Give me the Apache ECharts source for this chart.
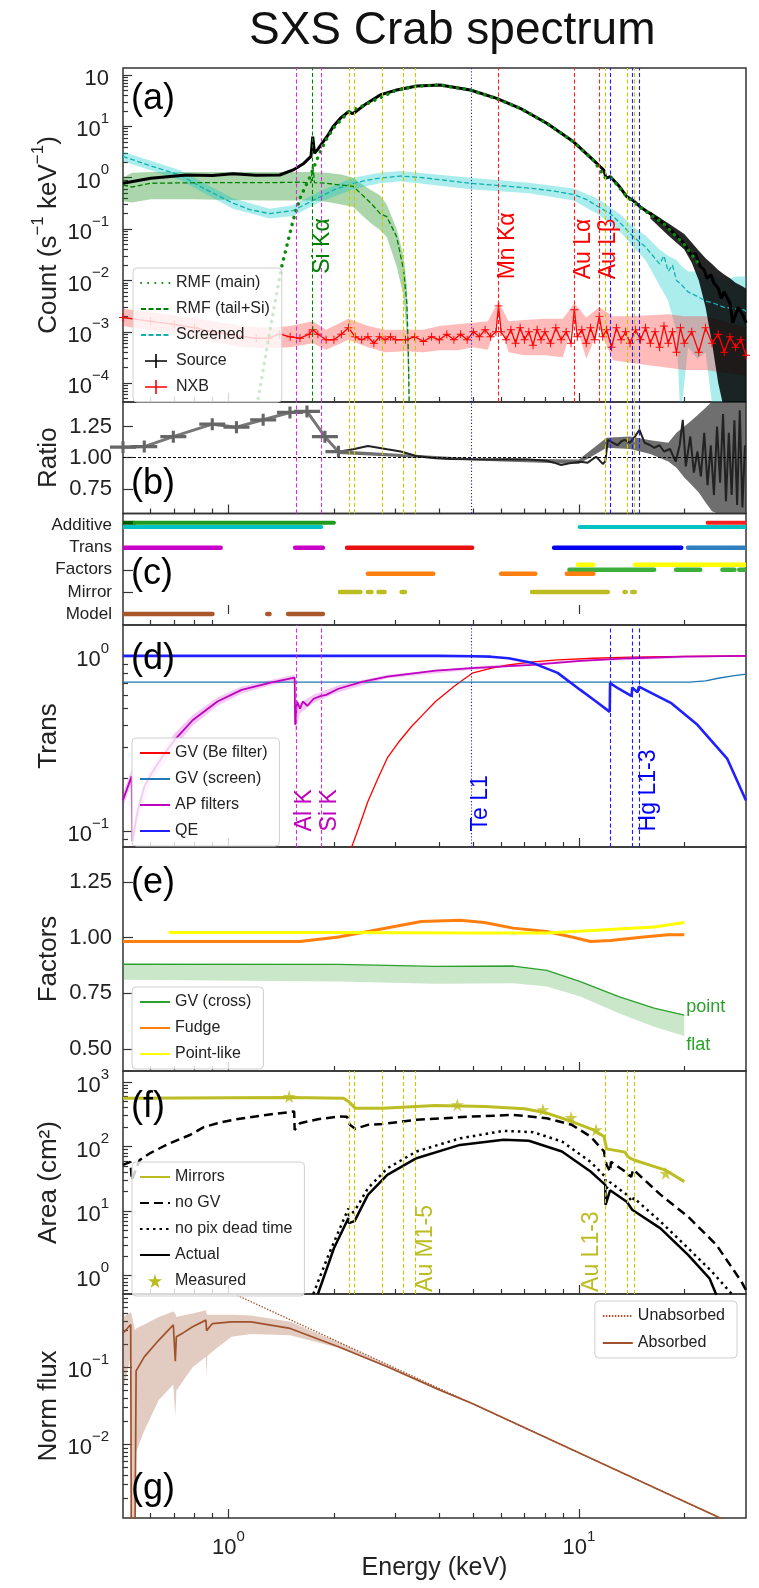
<!DOCTYPE html>
<html><head><meta charset="utf-8">
<script src="https://cdn.jsdelivr.net/npm/echarts@6/dist/echarts.min.js"></script>
<style>html,body{margin:0;padding:0;background:#fff}#c{width:759px;height:1588px}</style>
</head><body><div id="c"></div>
<script>
// ================= DATA =================
const X_MIN = 0.5, X_MAX = 30;
const X_MAJOR = [1, 10];
const X_MINOR = [0.6,0.7,0.8,0.9,2,3,4,5,6,7,8,9,20];

// panel ranges / ticks
const A_RANGE = [4.3e-5, 137];
const A_MAJOR = [1e-4,1e-3,1e-2,1e-1,1,10,100];
const B_RANGE = [0.552, 1.447];
const B_TICKS = [0.75, 1.0, 1.25];
const C_RANGE = [-0.5, 4.55];
const C_ROWS = ['Model','Mirror','Factors','Trans','Additive'];
const D_RANGE = [0.0815, 1.5];
const D_MAJOR = [0.1, 1];
const E_RANGE = [0.401, 1.406];
const E_TICKS = [0.5, 0.75, 1.0, 1.25];
const F_RANGE = [0.52, 1480];
const F_MAJOR = [1, 10, 100, 1000];
const G_RANGE = [1.11e-3, 0.895];
const G_MAJOR = [0.01, 0.1];

// edge energies (keV)
const AP_EDGES = [1.56, 1.84];
const SI_KA = [1.74];
const AU_M = [2.206, 2.291, 2.743, 3.148, 3.425];
const TE_L1 = [4.94];
const RED_LINES = [5.9, 9.71, 11.44];
const AU_L = [11.92, 13.73, 14.35];
const HG_L = [12.28, 14.21, 14.84];

// (a) count spectra
const srcE = [0.5,0.6,0.76,0.9,1.03,1.2,1.4,1.53,1.64,1.72,1.74,1.76,1.8,1.91,1.99,2.1,2.2,2.26,2.3,2.48,2.71,3.02,3.45,4.02,4.9,5.83,6.8,8.1,9.66,11.0,11.8,11.95,12.3,13.0,13.7,14.3,14.98,16.0,17.4,18.5,19.9,20.5,21,21.5,22.2,22.8,23.2,23.8,24.3,25,25.5,26,27,27.5,28.5,29.5,30];
const srcY = [0.78,0.98,1.13,1.1,1.19,1.12,1.13,1.42,1.9,2.6,6.3,3.0,3.6,6.3,9.9,15,19.3,17.8,19,28,41,51,61,64,51,35,22.5,11.5,5.0,2.2,1.4,0.98,1.05,0.7,0.43,0.36,0.27,0.2,0.13,0.09,0.054,0.04,0.03,0.034,0.019,0.016,0.011,0.013,0.0089,0.007,0.0045,0.006,0.0036,0.0015,0.003,0.002,0.0015];
const srcErrE = [16,18,20,21,22,23,24,25,26,27,28,29,30];
const srcErrHi = [0.22,0.13,0.08,0.055,0.038,0.027,0.021,0.016,0.013,0.011,0.009,0.008,0.007];
const srcErrLo = [0.16,0.075,0.04,0.022,0.01,0.003,0.0006,0.0001,0.00003,0.00001,0.00001,0.00001,0.00001];
const rmfE = [1.216,1.285,1.35,1.419,1.53,1.6,1.71,1.8,1.9,2.0,2.2,2.5,3.0,3.45,4.0,4.9,5.8,6.8,8.1,9.66,11.0,11.9,12.3,13.7,15,17.4,20,22.2];
const rmfY = [5e-5,4.5e-4,3e-3,0.0186,0.15,0.4,1.05,2.5,5.5,9.5,19,28,50,61,64,51,35,22.5,11.5,5.0,2.2,1.0,1.05,0.43,0.26,0.13,0.05,0.019];
const tailE = [0.5,0.53,0.6,0.8,1.0,1.3,1.6,1.72,1.74,1.76,1.9,2.1,2.27,2.38,2.55,2.71,2.83,3.02,3.16,3.23,3.26,3.28];
const tailY = [0.72,0.66,0.78,0.8,0.8,0.8,0.82,0.8,1.9,0.8,0.78,0.72,0.68,0.5,0.32,0.2,0.175,0.071,0.016,0.0036,4.5e-4,4e-5];
const tailBandE = [0.5,0.53,0.6,0.8,1.0,1.3,1.6,1.74,1.9,2.1,2.27,2.38,2.55,2.71,2.83,3.02,3.16,3.23,3.28];
const tailBandHi = [1.0,1.25,1.3,1.3,1.3,1.3,1.3,1.3,1.25,1.15,1.0,0.78,0.58,0.45,0.3,0.1,0.03,0.008,0.0002];
const tailBandLo = [0.35,0.33,0.38,0.38,0.37,0.36,0.36,0.36,0.34,0.3,0.27,0.2,0.13,0.095,0.07,0.019,0.005,0.0008,0.00002];
const scrE = [0.5,0.6,0.727,0.85,1.03,1.15,1.31,1.53,1.83,2.0,2.27,2.5,2.7,3.1,3.6,4.9,6,7.2,8.5,9.66,10.5,11.4,12.3,13.3,14.3,15.5,17,17.5,18,18.5,19,19.5,20.5,21.8,23,24.3,26,28,29.5,30];
const scrY = [2.6,1.7,1.13,0.62,0.32,0.24,0.2,0.23,0.43,0.58,0.78,0.9,0.98,1.08,1.0,0.78,0.7,0.63,0.55,0.47,0.38,0.27,0.2,0.12,0.071,0.045,0.021,0.03,0.015,0.02,0.01,0.0087,0.006,0.0049,0.004,0.0036,0.003,0.0028,0.0027,0.0025];
const scrBandE = [0.5,0.727,1.03,1.31,1.53,1.83,2.27,2.7,3.1,4.9,7.2,9.66,11.4,13.3,14.3,15.5,17,18,19,19.5,20.5,21.8,23,24.3,26,28,30];
const scrBandHi = [3.2,1.4,0.4,0.25,0.29,0.55,1.0,1.25,1.35,1.0,0.8,0.62,0.38,0.18,0.11,0.075,0.04,0.03,0.025,0.02,0.015,0.015,0.012,0.012,0.01,0.012,0.012];
const scrBandLo = [2.1,0.9,0.25,0.16,0.18,0.34,0.6,0.78,0.85,0.6,0.5,0.36,0.19,0.08,0.045,0.025,0.008,0.004,0.001,0.00002,0.0005,0.0003,0.0004,0.00002,0.00002,0.00002,0.00002];
const nxbE = [0.5,0.6,0.7,0.8,0.9,1.0,1.1,1.2,1.3,1.4,1.5,1.6,1.7,1.74,1.8,1.9,2.0,2.1,2.2,2.3,2.4,2.5,2.6,2.7,2.8,2.9,3.0,3.2,3.4,3.6,3.8,4.0,4.2,4.4,4.6,4.8,5.0,5.2,5.4,5.6,5.8,5.9,6.0,6.2,6.4,6.6,6.8,7.0,7.2,7.4,7.6,7.8,8.0,8.3,8.6,8.9,9.2,9.5,9.71,9.9,10.2,10.5,10.8,11.1,11.44,11.7,12.0,12.4,12.8,13.2,13.6,14.0,14.5,15,15.5,16,16.5,17,17.5,18,18.5,19,19.5,20,21,22,23,24,25,26,27,28,29,30];
const nxbY = [1.9e-3,1.6e-3,1.4e-3,1.2e-3,1.0e-3,9e-4,8e-4,7.5e-4,7.5e-4,9e-4,8e-4,7.5e-4,9e-4,1.1e-3,9e-4,7e-4,7e-4,9e-4,1.2e-3,8e-4,7e-4,8e-4,6e-4,8e-4,7e-4,8e-4,7e-4,7e-4,8e-4,6.5e-4,8e-4,7e-4,9e-4,7e-4,9e-4,7e-4,1e-3,8e-4,1.1e-3,8e-4,1e-3,3.2e-3,1e-3,7e-4,1.1e-3,6e-4,1.2e-3,7e-4,1e-3,5.5e-4,1.1e-3,7e-4,1e-3,6e-4,1.2e-3,7e-4,1e-3,6e-4,2.7e-3,8e-4,1.1e-3,6e-4,1.2e-3,7e-4,2e-3,8e-4,1.1e-3,5e-4,1.2e-3,7e-4,1e-3,6e-4,1.1e-3,7e-4,1.2e-3,6e-4,1e-3,5e-4,1.3e-3,6e-4,1e-3,4e-4,1.2e-3,6e-4,1e-3,4e-4,1.2e-3,6e-4,9e-4,4e-4,8e-4,5e-4,7e-4,3.5e-4];
const nxbBandE = [0.5,0.7,0.9,1.1,1.3,1.5,1.74,1.9,2.2,2.5,2.8,3.2,3.6,4.0,4.5,5.0,5.5,5.9,6.3,7,8,9,9.71,10.5,11.44,12.5,14,16,18,20,23,26,30];
const nxbBandHi = [2.8e-3,2.1e-3,1.6e-3,1.3e-3,1.2e-3,1.3e-3,1.6e-3,1.1e-3,1.8e-3,1.3e-3,1.1e-3,1.1e-3,1.1e-3,1.3e-3,1.4e-3,1.5e-3,1.6e-3,4e-3,1.6e-3,1.7e-3,1.8e-3,1.8e-3,3.6e-3,1.9e-3,3e-3,2e-3,2e-3,2.1e-3,2.2e-3,2e-3,2e-3,1.6e-3,1.2e-3];
const nxbBandLo = [1.3e-3,9e-4,6.5e-4,5e-4,4.8e-4,5e-4,6e-4,4.5e-4,7e-4,5e-4,4e-4,4.2e-4,4e-4,4.4e-4,4.4e-4,5e-4,4.5e-4,2e-3,4e-4,3.5e-4,3.5e-4,3.2e-4,1.8e-3,3e-4,1.2e-3,2.8e-4,2.5e-4,2.2e-4,2e-4,1.8e-4,1.8e-4,1.6e-4,1.4e-4];
const labelsA = [['Si Kα',1.74,0.0135,'#008000'],['Mn Kα',5.9,0.0105,'#ff0000'],['Au Lα',9.71,0.0105,'#ff0000'],['Au Lβ',11.44,0.0105,'#ff0000']];

// (b) ratio
const ratioLowE = [0.5,0.575,0.696,0.899,1.054,1.256,1.498,1.675,1.885,2.06];
const ratioLowY = [1.084,1.089,1.169,1.269,1.245,1.304,1.363,1.371,1.169,1.048];
const ratioE = [2.06,2.27,2.5,2.84,3.1,3.44,3.9,4.3,4.96,5.6,6.3,7.2,8.1,8.5,8.9,9.4,10.1,10.6,11.2,11.7,11.9,12.1,12.5,12.9,13.2,13.5,14.0,14.45,14.9,15.4,16.0,16.4,17.0,17.5,18.2,18.9,19.4,19.8,20.2,20.8,21.3,21.8,22.3,22.8,23.3,23.8,24.3,24.8,25.3,25.8,26.3,26.8,27.3,27.8,28.3,28.8,29.3,29.8];
const ratioY = [1.048,1.067,1.094,1.067,1.05,1.014,0.995,0.99,0.987,0.985,0.987,0.985,0.976,0.96,0.941,0.955,0.968,0.96,1.008,0.95,0.97,1.143,1.12,1.10,1.13,1.143,1.12,1.169,1.223,1.12,1.1,1.08,1.1,1.05,1.07,0.968,1.1,1.304,0.93,1.17,0.88,1.05,0.85,1.2,0.78,1.1,0.7,1.25,0.8,1.35,0.65,1.2,0.7,1.3,0.62,1.38,0.6,1.1];
const ratioBandE = [2.06,5,10,12,14,16,18,19,20,21,22,23,24,25,26,27,28,29,30];
const ratioBandHi = [1.06,0.995,0.985,1.16,1.17,1.14,1.12,1.2,1.25,1.3,1.35,1.4,1.45,1.45,1.45,1.45,1.45,1.45,1.45];
const ratioBandLo = [1.03,0.978,0.95,1.08,1.07,1.03,0.97,0.92,0.84,0.78,0.72,0.64,0.57,0.55,0.55,0.55,0.55,0.55,0.55];

// (c) component coverage segments [Emin, Emax]
const addDark = [[0.5,0.54]];
const addGreen = [[0.54,2.0]];
const addCyan = [[0.5,1.84],[10.05,30]];
const addRed = [[23.3,30]];
const transMag = [[0.5,0.95],[1.55,1.86]];
const transRed = [[2.18,4.96]];
const transBlue = [[8.5,19.6]];
const transSteel = [[20.5,30]];
const facYellow = [[9.95,11.0],[14.45,30]];
const facGreen = [[9.4,16.4],[18.95,22.2],[25.7,27.8],[28.7,30]];
const facOrange = [[2.5,3.84],[6.0,7.51],[9.24,11.0]];
const mirOlive = [[2.08,2.38],[2.5,2.56],[2.68,2.79],[3.12,3.19],[7.35,12.1],[13.5,13.6],[14.2,14.45]];
const modBrown = [[0.5,0.9],[1.29,1.31],[1.48,1.86]];

// (d) transmissions
const qeE = [0.5,1,2,3,4,4.96,5.6,6.3,7.4,8.7,10.1,11.2,12.25,12.28,13.0,14.15,14.2,14.7,14.8,14.84,16.5,18.3,21.8,26.5,30];
const qeY = [1.0,1.0,1.0,1.0,1.0,0.995,0.99,0.97,0.91,0.8,0.64,0.55,0.48,0.70,0.65,0.59,0.66,0.62,0.61,0.668,0.6,0.54,0.405,0.26,0.15];
const gvScreenE = [0.5,20.7,23,25,27.5,30];
const gvScreenY = [0.708,0.708,0.72,0.746,0.77,0.787];
const gvBeE = [2.2,2.25,2.35,2.5,2.66,2.84,3.05,3.33,3.6,3.9,4.4,4.96,5.6,6.3,7.4,8.7,11,14,20,30];
const gvBeY = [0.066,0.082,0.104,0.148,0.197,0.262,0.32,0.396,0.466,0.55,0.67,0.797,0.85,0.889,0.925,0.949,0.97,0.984,0.995,1.0];
const apE = [0.5,0.529,0.532,0.55,0.575,0.6,0.65,0.7,0.79,0.93,1.09,1.32,1.545,1.55,1.57,1.6,1.63,1.68,1.75,1.83,1.845,1.9,2.06,2.42,2.84,3.9,4.96,7.4,10.1,14,20,30];
const apY = [0.151,0.206,0.088,0.13,0.18,0.21,0.27,0.33,0.43,0.55,0.64,0.705,0.752,0.405,0.55,0.5,0.55,0.52,0.57,0.59,0.575,0.6,0.65,0.714,0.762,0.824,0.851,0.889,0.937,0.97,0.99,1.0];
const apBandE = [0.5,0.529,0.532,0.55,0.6,0.7,0.79,0.93,1.09,1.32,1.545,1.55,1.6,1.75,2.06,2.84,4.96,10,30];
const apBandHi = [0.165,0.225,0.1,0.145,0.23,0.36,0.46,0.58,0.67,0.73,0.78,0.45,0.54,0.6,0.68,0.78,0.87,0.95,1.0];
const apBandLo = [0.138,0.19,0.078,0.115,0.19,0.3,0.4,0.52,0.61,0.68,0.725,0.36,0.47,0.54,0.62,0.745,0.835,0.925,1.0];
const labelsDm = [['Al K',1.56,0.1],['Si K',1.84,0.1]];
const labelsDb = [['Te L1',4.94,0.1],['Hg L1-3',14.84,0.1]];

// (e) factors
const fudgeE = [0.5,1.6,2.06,2.66,3.55,4.58,5.37,6.5,8.1,9.55,10.8,12.3,15.3,18,20];
const fudgeY = [0.982,0.982,1.002,1.035,1.072,1.077,1.067,1.042,1.027,1.002,0.982,0.987,1.002,1.012,1.012];
const pointE = [0.675,2,5,8.1,11.9,16.4,20];
const pointY = [1.022,1.022,1.02,1.02,1.035,1.047,1.067];
const gvCrossE = [0.5,2.06,3.9,6.5,8.1,10.1,13,16.4,20];
const gvPoint = [0.88,0.879,0.87,0.872,0.852,0.802,0.735,0.683,0.652];
const gvFlat = [0.81,0.802,0.792,0.795,0.78,0.735,0.66,0.6,0.558];
const labelsE = [['point',20,0.69],['flat',20,0.517]];

// (f) effective area
const mirE = [0.5,1.5,2.13,2.2,2.3,2.75,3.9,5.4,7.0,8.1,9.55,11.0,11.8,11.92,12.0,13.55,13.73,14.0,14.35,14.5,17.6,20];
const mirY = [562,575,562,500,393,393,433,417,384,330,244,181,143,110,92,82,72,66,62,60,43.6,28.6];
const measE = [1.49,4.5,7.9,9.5,11.2,17.7];
const measY = [596,443,371,282,181,38.6];
const noGvE = [0.5,0.525,0.53,0.545,0.558,0.6,0.674,0.776,0.85,0.93,1.05,1.28,1.54,1.545,1.6,1.8,2.06,2.18,2.22,2.3,2.5,2.75,3.44,4.96,6.5,8.1,9.55,10.8,11.8,11.92,12.0,12.28,12.35,13.55,13.73,14.1,14.3,17.1,20.5,24.7,29.1,30];
const noGvY = [52,58,30,45,62,80,110,151,200,230,265,309,349,181,230,265,292,290,217,188,217,224,259,292,309,275,217,143,84,60,52,41,58,41,38,34,44,18,8.2,3.0,0.81,0.6];
const noPixE = [1.746,1.93,2.2,2.206,2.29,2.5,2.84,3.44,4.58,6.1,7.4,8.95,10.8,11.9,11.92,12.28,13.7,14.2,14.35,17.1,20.5,24,27.5];
const noPixY = [0.52,2.1,11,8.5,10,22.6,46,84,134,175,167,120,58,34,21,28,18,14,16,6.9,2.66,1.15,0.5];
const actE = [1.8,2.0,2.2,2.206,2.29,2.5,2.84,3.44,4.58,6.1,7.2,8.95,10.8,11.9,11.92,12.28,13.7,14.2,14.35,17.1,20.5,23.6,24.7];
const actY = [0.52,2.66,7.8,6.5,7,17.8,36.5,66,106,127,123,84,41,25.5,12.5,21,14,10.5,11,5.4,2.1,0.91,0.5];
const labelsF = [['Au M1-5',3.425,0.56],['Au L1-3',10.2,0.56]];

// (g) normalized flux
const unabsE = [0.9,1,2,5,10,20,30];
const unabsY = [1.21,0.97,0.227,0.0333,0.00778,0.00182,0.00078];
const absE = [0.5,0.526,0.528,0.541,0.545,0.575,0.633,0.696,0.705,0.71,0.742,0.79,0.862,0.866,0.9,1.02,1.16,1.5,2.06,2.84,4,5,10,20,30];
const absY = [0.277,0.36,0.0005,0.0005,0.09,0.137,0.226,0.355,0.12,0.25,0.28,0.336,0.41,0.3,0.37,0.39,0.39,0.32,0.185,0.102,0.051,0.0335,0.00778,0.00182,0.00078];
const absBandE = [0.5,0.526,0.528,0.541,0.545,0.575,0.633,0.696,0.705,0.71,0.79,0.862,0.866,0.87,0.9,1.02,1.16,1.5,2.06,2.84,4];
const absBandHi = [0.45,0.52,0.5,0.3,0.32,0.36,0.45,0.53,0.5,0.45,0.5,0.55,0.5,0.48,0.48,0.48,0.47,0.39,0.21,0.108,0.052];
const absBandLo = [0.05,0.14,0.0005,0.0005,0.008,0.015,0.038,0.06,0.023,0.05,0.1,0.137,0.073,0.14,0.16,0.25,0.27,0.26,0.18,0.1,0.05];

// ================= CHART =================
const FONT = '"Liberation Sans", Arial, sans-serif';
const TXT = '#222';
const TICK = {color:'#333', width:1.2};
const CROSS = 'path://M0,6.2H22V7.8H0ZM10.2,0H11.8V14H10.2Z';
const STAR = 'path://M50,2L61,37L98,37L68,59L79,95L50,73L21,95L32,59L2,37L39,37Z';
const GRIDS = [[68,402],[402,513.5],[513.5,625],[625,847],[847,1071],[1071,1294],[1294,1518]];
const zip = (a, b) => a.map((v, i) => [v, b[i]]);

function minorTicks(r) {
  const out = [];
  for (let e = Math.floor(Math.log10(r[0])) ; e <= Math.ceil(Math.log10(r[1])); e++) {
    for (let k = 2; k <= 9; k++) { const v = k * Math.pow(10, e); if (v > r[0] && v < r[1]) out.push(+v.toPrecision(3)); }
  }
  return out;
}
const RICH = {
  b: {fontSize:22, fontFamily:FONT, color:TXT, lineHeight:30, verticalAlign:'bottom'},
  s: {fontSize:15, fontFamily:FONT, color:TXT, lineHeight:16, verticalAlign:'top'}
};
function supLabel(v) {
  const e = Math.round(Math.log10(v));
  return '{b|10}{s|' + (e < 0 ? '\u2212' + (-e) : '' + e) + '}';
}

const grid = GRIDS.map(g => ({left:123, width:623, top:g[0], height:g[1]-g[0], show:true, borderColor:'#333', borderWidth:1.5, backgroundColor:'transparent', containLabel:false, outerBoundsMode:'none'}));

const xAxis = [];
GRIDS.forEach((g, i) => xAxis.push({
  type:'log', logBase:10, gridIndex:i, min:X_MIN, max:X_MAX, position:'bottom',
  axisLine:{show:false}, splitLine:{show:false},
  axisTick:{show:true, inside:true, length:9, customValues:X_MAJOR, lineStyle:TICK},
  axisLabel:{show:i === 6, customValues:X_MAJOR, formatter:supLabel, rich:RICH, margin:11},
  name: i === 6 ? 'Energy (keV)' : '', nameLocation:'middle', nameGap:38, nameMoveOverlap:false,
  nameTextStyle:{fontSize:25, color:TXT, fontFamily:FONT}
}));
GRIDS.forEach((g, i) => xAxis.push({
  type:'log', logBase:10, gridIndex:i, min:X_MIN, max:X_MAX, position:'bottom',
  axisLine:{show:false}, splitLine:{show:false},
  axisTick:{show:true, inside:true, length:5, customValues:X_MINOR, lineStyle:TICK},
  axisLabel:{show:false}
}));

const yAxis = [];
const YI = [];
const NAME = {fontSize:26, color:TXT, fontFamily:FONT};
function addY(c) { yAxis.push(c); return yAxis.length - 1; }
function logY(gi, range, major, name, fmt, nameStyle) {
  YI[gi] = addY({type:'log', logBase:10, gridIndex:gi, min:range[0], max:range[1], position:'left',
    axisLine:{show:false}, splitLine:{show:false},
    axisTick:{show:true, inside:true, length:9, customValues:major, lineStyle:TICK},
    axisLabel:{customValues:major, formatter:fmt || supLabel, rich:RICH, margin:14},
    name, nameLocation:'middle', nameGap:61, nameRotate:90, nameMoveOverlap:false, nameTextStyle:nameStyle || NAME});
  addY({type:'log', logBase:10, gridIndex:gi, min:range[0], max:range[1], position:'left', offset:0,
    axisLine:{show:false}, splitLine:{show:false},
    axisTick:{show:true, inside:true, length:5, customValues:minorTicks(range), lineStyle:TICK},
    axisLabel:{show:false}});
}
function linY(gi, range, ticks, name, fmt, fs) {
  YI[gi] = addY({type:'value', gridIndex:gi, min:range[0], max:range[1], position:'left',
    axisLine:{show:false}, splitLine:{show:false},
    axisTick:{show:true, inside:true, length:10, customValues:ticks, lineStyle:TICK},
    axisLabel:{customValues:ticks, formatter:fmt, fontSize:fs || 22, color:TXT, fontFamily:FONT, margin:11},
    name, nameLocation:'middle', nameGap:61, nameRotate:90, nameMoveOverlap:false, nameTextStyle:NAME});
}
logY(0, A_RANGE, A_MAJOR, '{n|Count (s}{s|\u22121}{n| keV}{s|\u22121}{n|)}',
  v => (v > 50 ? '{b|10}' : supLabel(v)),
  {fontSize:26, color:TXT, fontFamily:FONT, rich:{
    n:{fontSize:26, fontFamily:FONT, color:TXT, lineHeight:32, verticalAlign:'bottom'},
    s:{fontSize:17, fontFamily:FONT, color:TXT, lineHeight:18, verticalAlign:'top'}}});
linY(1, B_RANGE, B_TICKS, 'Ratio', v => v.toFixed(2));
linY(2, C_RANGE, [0,1,2,3,4], '', v => C_ROWS[Math.round(v)], 17);
logY(3, D_RANGE, D_MAJOR, 'Trans');
linY(4, E_RANGE, E_TICKS, 'Factors', v => v.toFixed(2));
logY(5, F_RANGE, F_MAJOR, 'Area (cm\u00b2)');
logY(6, G_RANGE, G_MAJOR, 'Norm flux');

const series = [];
function clipRect(p) { const c = p.coordSys; return {type:'rect', shape:{x:c.x, y:c.y, width:c.width, height:c.height}}; }
function band(gi, E, hi, lo, color, z) {
  return {type:'custom', xAxisIndex:gi, yAxisIndex:YI[gi], silent:true, z:z || 1,
    data:[[E[0], hi[0]]],
    renderItem:(p, api) => {
      const pts = [];
      for (let k = 0; k < E.length; k++) pts.push(api.coord([E[k], hi[k]]));
      for (let k = E.length - 1; k >= 0; k--) pts.push(api.coord([E[k], lo[k]]));
      return {type:'group', clipPath:clipRect(p), children:[{type:'polygon', shape:{points:pts}, style:{fill:color}}]};
    }};
}
function line(gi, name, E, Y, ls, extra) {
  return Object.assign({type:'line', name, xAxisIndex:gi, yAxisIndex:YI[gi], data:zip(E, Y),
    symbol:'none', showSymbol:false, lineStyle:ls, itemStyle:{color:ls.color}, z:3, silent:true, clip:true}, extra || {});
}
function vlines(gi, groups) {
  const d = [];
  groups.forEach(g => g[0].forEach(e => d.push({xAxis:e, lineStyle:{color:g[1], type:g[2], width:1.1}})));
  return {type:'line', xAxisIndex:gi, yAxisIndex:YI[gi], data:[], silent:true, z:2,
    markLine:{silent:true, symbol:['none','none'], animation:false, label:{show:false}, emphasis:{disabled:true}, data:d}};
}
function texts(gi, items, color, size, rotated, dx) {
  return {type:'custom', xAxisIndex:gi, yAxisIndex:YI[gi], silent:true, z:6,
    data:items.map(it => [it[1], it[2]]),
    renderItem:(p, api) => {
      const it = items[p.dataIndex];
      const pt = api.coord([api.value(0), api.value(1)]);
      return {type:'text', x:pt[0] + dx, y:pt[1], rotation:rotated ? Math.PI / 2 : 0,
        style:{text:it[0], fill:it[3] || color, font:size + 'px ' + FONT, align:'left', verticalAlign:rotated ? 'top' : 'middle'}};
    }};
}
function segs(list, row, color, width) {
  return {type:'custom', xAxisIndex:2, yAxisIndex:YI[2], silent:true, z:3,
    data:list.map(s => [s[0], s[1], row]), encode:{x:[0,1], y:2},
    renderItem:(p, api) => {
      const a = api.coord([api.value(0), api.value(2)]);
      const b = api.coord([api.value(1), api.value(2)]);
      return {type:'group', clipPath:clipRect(p), children:[{type:'line', shape:{x1:a[0], y1:a[1], x2:b[0], y2:b[1]},
        style:{stroke:color, lineWidth:width, lineCap:'round'}}]};
    }};
}

const MAG = '#d62fd6', YEL = '#c9c900', BLU = '#1a1aff', RED = '#ff2020', GRN = '#008000';
const DASH = [4, 2.5], DOT = [1.2, 2];

// ---- (a)
series.push(band(0, tailBandE, tailBandHi, tailBandLo, 'rgba(0,128,0,0.33)'));
series.push(band(0, scrBandE, scrBandHi, scrBandLo, 'rgba(0,200,200,0.33)'));
series.push(band(0, nxbBandE, nxbBandHi, nxbBandLo, 'rgba(255,40,40,0.32)'));
series.push(band(0, srcErrE, srcErrHi, srcErrLo, 'rgba(0,0,0,0.85)'));
series.push(vlines(0, [[AP_EDGES, MAG, DASH], [SI_KA, GRN, DASH], [AU_M, YEL, DASH], [TE_L1, BLU, DOT], [RED_LINES, RED, DASH], [AU_L, YEL, DASH], [HG_L, BLU, DASH]]));
series.push(line(0, 'Screened', scrE, scrY, {color:'#13b0b0', width:1.3, type:[5, 2.5]}));
series.push(line(0, 'RMF (tail+Si)', tailE, tailY, {color:GRN, width:1.3, type:[5, 2.5]}));
series.push(line(0, 'NXB', nxbE, nxbY, {color:'#ff0000', width:1.3}, {symbol:'path://M0,4.4H10V5.6H0ZM4.4,0H5.6V10H4.4Z', symbolSize:8, showSymbol:true, itemStyle:{color:'#ff0000'}}));
series.push(line(0, 'Source', srcE, srcY, {color:'#000', width:3}));
series.push(line(0, 'RMF (main)', rmfE, rmfY, {color:'#0a8a0a', width:3.5, type:[0.1, 7], cap:'round'}, {z:4}));
series.push(texts(0, labelsA, '#000', 23, true, -2));

// ---- (b)
series.push(band(1, ratioBandE, ratioBandHi, ratioBandLo, 'rgba(50,50,50,0.7)'));
series.push(vlines(1, [[AP_EDGES, MAG, DASH], [AU_M, YEL, DASH], [TE_L1, BLU, DOT], [AU_L, YEL, DASH], [HG_L, BLU, DASH]]));
series.push(line(1, 'ratioLow', ratioLowE, ratioLowY, {color:'#777', width:3}, {symbol:'path://M0,4.2H10V5.8H0ZM4.4,2H5.6V8H4.4Z', symbolSize:[26, 12], symbolKeepAspect:false, showSymbol:true, itemStyle:{color:'#666'}}));
series.push(line(1, 'ratio', ratioE, ratioY, {color:'#222', width:2}, {markLine:{silent:true, symbol:['none','none'], label:{show:false}, data:[{yAxis:1, lineStyle:{color:'#000', type:[3, 2], width:1}}]}}));

// ---- (c)
series.push(segs(addDark, 4.13, '#005a00', 4));
series.push(segs(addGreen, 4.13, '#1e9a1e', 4));
series.push(segs(addRed, 4.13, '#ff2020', 4));
series.push(segs(addCyan, 3.94, '#00c4c4', 4));
series.push(segs(transMag, 3, '#c800c8', 4.5));
series.push(segs(transRed, 3, '#e81010', 4.5));
series.push(segs(transBlue, 3, '#0000ee', 4.5));
series.push(segs(transSteel, 3, '#2f7fbf', 4.5));
series.push(segs(facYellow, 2.23, '#ffff00', 4.5));
series.push(segs(facGreen, 2.0, '#3cae3c', 4.5));
series.push(segs(facOrange, 1.82, '#ff7f0e', 4.5));
series.push(segs(mirOlive, 1, '#bcbd22', 4.5));
series.push(segs(modBrown, 0, '#a9582a', 4.5));

// ---- (d)
series.push(band(3, apBandE, apBandHi, apBandLo, 'rgba(200,0,200,0.22)'));
series.push(vlines(3, [[AP_EDGES, MAG, DASH], [TE_L1, BLU, DOT], [HG_L, BLU, DASH]]));
series.push(line(3, 'GV (Be filter)', gvBeE, gvBeY, {color:'#ff0000', width:1.3}));
series.push(line(3, 'GV (screen)', gvScreenE, gvScreenY, {color:'#1f77b4', width:1.3}));
series.push(line(3, 'AP filters', apE, apY, {color:'#c000c0', width:1.8}));
series.push(line(3, 'QE', qeE, qeY, {color:'#2020ff', width:2.6}));
series.push(texts(3, labelsDm, '#c000c0', 23, true, -3));
series.push(texts(3, labelsDb, '#0000ff', 23, true, -2));

// ---- (e)
series.push(band(4, gvCrossE, gvPoint, gvFlat, 'rgba(44,160,44,0.25)'));
series.push(line(4, 'GV (cross)', gvCrossE, gvPoint, {color:'#2ca02c', width:1.3}));
series.push(line(4, 'Fudge', fudgeE, fudgeY, {color:'#ff7f0e', width:3}));
series.push(line(4, 'Point-like', pointE, pointY, {color:'#ffff00', width:3}));
series.push(texts(4, labelsE, '#2ca02c', 18, false, 2));

// ---- (f)
series.push(vlines(5, [[AU_M, YEL, DASH], [AU_L, YEL, DASH]]));
series.push(line(5, 'Mirrors', mirE, mirY, {color:'#bcbd22', width:3}));
series.push(line(5, 'no GV', noGvE, noGvY, {color:'#000', width:2.5, type:[9, 5]}));
series.push(line(5, 'no pix dead time', noPixE, noPixY, {color:'#000', width:2.5, type:[2.5, 4]}));
series.push(line(5, 'Actual', actE, actY, {color:'#000', width:2.5}));
series.push({type:'scatter', name:'Measured', xAxisIndex:5, yAxisIndex:YI[5], data:zip(measE, measY), symbol:STAR, symbolSize:13, itemStyle:{color:'#bcbd22'}, z:5, silent:true});
series.push(texts(5, labelsF, '#bcbd22', 23, true, -2));

// ---- (g)
series.push(band(6, absBandE, absBandHi, absBandLo, 'rgba(160,82,45,0.3)'));
series.push(line(6, 'Unabsorbed', unabsE, unabsY, {color:'#a0522d', width:1.3, type:[1.5, 1.5]}));
series.push(line(6, 'Absorbed', absE, absY, {color:'#a0522d', width:1.7}));

const SHOW = {opacity:1};
function legend(data, pos) {
  return Object.assign({data, orient:'vertical', itemWidth:30, itemHeight:14, itemGap:10, padding:[7, 12, 7, 7],
    backgroundColor:'rgba(255,255,255,0.8)', borderColor:'#cfcfcf', borderWidth:1, borderRadius:4,
    itemStyle:{opacity:0},
    textStyle:{fontSize:16, color:TXT, fontFamily:FONT}, selectedMode:false, z:20}, pos);
}
const legendOpt = [
  legend(['RMF (main)', 'RMF (tail+Si)', 'Screened', {name:'Source', icon:CROSS, itemStyle:SHOW}, {name:'NXB', icon:CROSS, itemStyle:SHOW}], {left:133, top:268}),
  legend(['GV (Be filter)', 'GV (screen)', 'AP filters', 'QE'], {left:132, top:738}),
  legend(['GV (cross)', 'Fudge', 'Point-like'], {left:132, top:987}),
  legend(['Mirrors', 'no GV', 'no pix dead time', 'Actual', {name:'Measured', icon:STAR, itemStyle:SHOW}], {left:132, top:1162}),
  legend(['Unabsorbed', 'Absorbed'], {right:22, top:1301, itemGap:11})
];

const letters = [['(a)', 81], ['(b)', 466], ['(c)', 556], ['(d)', 641], ['(e)', 865], ['(f)', 1089], ['(g)', 1471]];
const title = [{text:'SXS Crab spectrum', left:249, top:8, padding:0, textStyle:{fontSize:46, fontWeight:'normal', color:'#111', fontFamily:FONT}}]
  .concat(letters.map(l => ({text:l[0], left:131, top:l[1], padding:0, textStyle:{fontSize:36, fontWeight:'normal', color:'#000', fontFamily:FONT}})));

const chart = echarts.init(document.getElementById('c'), null, {renderer:'canvas'});
chart.setOption({animation:false, backgroundColor:'#fff', title, grid, xAxis, yAxis, legend:legendOpt, series});
</script></body></html>
